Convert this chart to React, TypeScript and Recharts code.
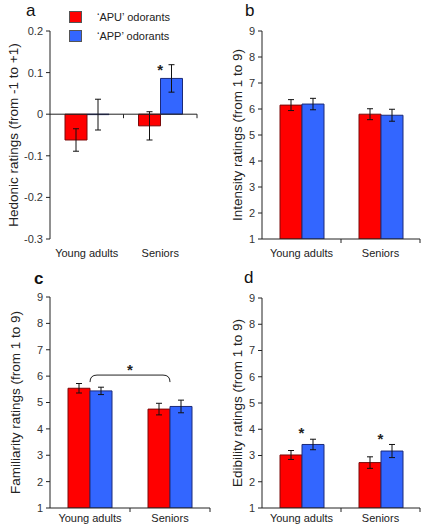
import {
  Bar,
  ComposedChart,
  ErrorBar,
  Legend,
  ReferenceLine,
  Scatter,
  XAxis,
  YAxis,
} from "recharts";

const FONT = "'Liberation Sans', Arial, sans-serif";
const INK = "#222";
const RED = "#ff0000";
const RED_EDGE = "#7a0a0a";
const BLUE = "#3366ff";
const BLUE_EDGE = "#1c2a78";

const GROUPS = ["Young adults", "Seniors"];
const APU_NAME = "\u2018APU\u2019 odorants";
const APP_NAME = "\u2018APP\u2019 odorants";
const SERIES_ORDER = [APU_NAME, APP_NAME];

// a: hedonic ratings
const HEDONIC_APU = [-0.062, -0.028];
const HEDONIC_APU_ERR = [0.027, 0.034];
const HEDONIC_APP = [-0.001, 0.086];
const HEDONIC_APP_ERR = [0.037, 0.033];
const HEDONIC_STAR = [null, 0.113];
const HEDONIC_TICKS = [-0.3, -0.2, -0.1, 0, 0.1, 0.2];

// b: intensity ratings
const INTENSITY_APU = [6.15, 5.8];
const INTENSITY_APU_ERR = [0.21, 0.21];
const INTENSITY_APP = [6.19, 5.76];
const INTENSITY_APP_ERR = [0.22, 0.23];

// c: familiarity ratings
const FAMILIARITY_APU = [5.54, 4.75];
const FAMILIARITY_APU_ERR = [0.18, 0.22];
const FAMILIARITY_APP = [5.44, 4.85];
const FAMILIARITY_APP_ERR = [0.14, 0.24];
const FAMILIARITY_BRACKET = 6.04;

// d: edibility ratings
const EDIBILITY_APU = [3.02, 2.73];
const EDIBILITY_APU_ERR = [0.17, 0.22];
const EDIBILITY_APP = [3.42, 3.17];
const EDIBILITY_APP_ERR = [0.2, 0.25];
const EDIBILITY_STAR = [3.97, 3.74];

const SCALE_TICKS = [1, 2, 3, 4, 5, 6, 7, 8, 9];

type Row = {
  group: string;
  apu: number;
  apuErr: number;
  app: number;
  appErr: number;
  star: number | null;
};

function buildRows(
  apu: number[],
  apuErr: number[],
  app: number[],
  appErr: number[],
  star: (number | null)[] = [null, null]
): Row[] {
  return GROUPS.map((g, i) => ({
    group: g,
    apu: apu[i],
    apuErr: apuErr[i],
    app: app[i],
    appErr: appErr[i],
    star: star[i],
  }));
}

// Excel-style category axis: line plus ticks at the category boundaries.
function CategoryAxisLine(props: any) {
  const { x1, y1, x2 } = props;
  const mid = (x1 + x2) / 2;
  return (
    <g>
      <line x1={x1} y1={y1} x2={x2} y2={y1} stroke={INK} strokeWidth={1} />
      <line x1={mid} y1={y1} x2={mid} y2={y1 + 4} stroke={INK} strokeWidth={1} />
      <line x1={x2} y1={y1} x2={x2} y2={y1 + 4} stroke={INK} strokeWidth={1} />
    </g>
  );
}

function Bracket(props: any) {
  const { x1, y1, x2 } = props;
  const d = `M ${x1} ${y1 + 7} Q ${x1} ${y1} ${x1 + 7} ${y1} L ${x2 - 7} ${y1} Q ${x2} ${y1} ${x2} ${y1 + 7}`;
  return (
    <g>
      <path d={d} fill="none" stroke={INK} strokeWidth={1} />
      <text
        x={(x1 + x2) / 2}
        y={y1}
        textAnchor="middle"
        fontSize={15}
        fontWeight="bold"
        fontFamily={FONT}
        fill={INK}
      >
        *
      </text>
    </g>
  );
}

function StarMark(props: any) {
  if (props.payload?.star == null) return <g />;
  return (
    <text
      x={props.cx}
      y={props.cy + 8}
      textAnchor="middle"
      fontSize={15}
      fontWeight="bold"
      fontFamily={FONT}
      fill={INK}
    >
      *
    </text>
  );
}

function SeriesLegend({ payload }: any) {
  const items = (payload ?? [])
    .filter((p: any) => p.type !== "none")
    .sort((a: any, b: any) => SERIES_ORDER.indexOf(a.value) - SERIES_ORDER.indexOf(b.value));
  return (
    <div style={{ fontFamily: FONT, fontSize: 11, color: INK }}>
      {items.map((p: any) => (
        <div key={p.value} style={{ display: "flex", alignItems: "center", height: 19 }}>
          <span
            style={{
              display: "inline-block",
              width: 11,
              height: 10,
              background: p.color,
              border: "1px solid #555",
              marginRight: 15,
            }}
          />
          <span>{p.value}</span>
        </div>
      ))}
    </div>
  );
}

interface PanelProps {
  left: number;
  top: number;
  width: number;
  height: number;
  margin: { top: number; right: number; bottom: number; left: number };
  rows: Row[];
  domain: [number, number];
  ticks: number[];
  baseline: number;
  yLabel: string;
  yLabelX: number;
  labelDy: number;
  letter: string;
  letterX: number;
  letterY: number;
  letterBold?: boolean;
  showLegend?: boolean;
  bracket?: number;
}

function Panel(p: PanelProps) {
  return (
    <div style={{ position: "absolute", left: p.left, top: p.top, width: p.width, height: p.height }}>
      <ComposedChart
        width={p.width}
        height={p.height}
        data={p.rows}
        margin={p.margin}
        barSize={22}
        barGap={0}
      >
        <XAxis
          dataKey="group"
          axisLine={false}
          tickLine={false}
          tickSize={0}
          tickMargin={0}
          height={20}
          interval={0}
          tick={(t: any) => (
            <text
              x={t.x}
              y={t.y + p.labelDy}
              textAnchor="middle"
              fontSize={11}
              fontFamily={FONT}
              fill={INK}
            >
              {t.payload.value}
            </text>
          )}
        />
        <YAxis
          width={50}
          domain={p.domain}
          ticks={p.ticks}
          interval={0}
          allowDataOverflow
          stroke={INK}
          tickSize={4}
          tickMargin={3}
          tick={{ fill: "#333", fontSize: 11, fontFamily: FONT }}
          tickFormatter={(v: number) => String(v)}
          label={(lp: any) => {
            const vb = lp.viewBox ?? {};
            const cx = (vb.x ?? 0) + p.yLabelX;
            const cy = (vb.y ?? 0) + (vb.height ?? 0) / 2;
            return (
              <text
                x={cx}
                y={cy}
                transform={`rotate(-90 ${cx} ${cy})`}
                textAnchor="middle"
                fontSize={13.5}
                fontFamily={FONT}
                fill={INK}
              >
                {p.yLabel}
              </text>
            );
          }}
        />
        {p.showLegend && (
          <Legend
            layout="vertical"
            align="center"
            verticalAlign="middle"
            content={<SeriesLegend />}
            wrapperStyle={{ top: 7, left: 69, width: "auto", height: "auto" }}
          />
        )}
        <Bar
          dataKey="apu"
          name={APU_NAME}
          fill={RED}
          stroke={RED_EDGE}
          strokeWidth={1}
          isAnimationActive={false}
        >
          <ErrorBar dataKey="apuErr" width={3} stroke="#111" strokeWidth={1} direction="y" />
        </Bar>
        <Bar
          dataKey="app"
          name={APP_NAME}
          fill={BLUE}
          stroke={BLUE_EDGE}
          strokeWidth={1}
          isAnimationActive={false}
        >
          <ErrorBar dataKey="appErr" width={3} stroke="#111" strokeWidth={1} direction="y" />
        </Bar>
        <ReferenceLine y={p.baseline} ifOverflow="visible" shape={CategoryAxisLine} />
        {p.bracket != null && (
          <ReferenceLine
            segment={[
              { x: GROUPS[0], y: p.bracket },
              { x: GROUPS[1], y: p.bracket },
            ]}
            ifOverflow="visible"
            shape={Bracket}
          />
        )}
        <Scatter
          dataKey="star"
          legendType="none"
          shape={StarMark}
          isAnimationActive={false}
        />
      </ComposedChart>
      <span
        style={{
          position: "absolute",
          left: p.letterX,
          top: p.letterY,
          fontFamily: FONT,
          fontSize: 17,
          lineHeight: 1,
          fontWeight: p.letterBold ? "bold" : "normal",
          color: "#111",
        }}
      >
        {p.letter}
      </span>
    </div>
  );
}

export default function App() {
  return (
    <div
      style={{
        position: "absolute",
        left: 0,
        top: 0,
        width: 425,
        height: 529,
        background: "#fff",
        fontFamily: FONT,
      }}
    >
      <Panel
        left={0}
        top={0}
        width={212}
        height={270}
        margin={{ top: 31, right: 15, bottom: 11, left: 0 }}
        rows={buildRows(HEDONIC_APU, HEDONIC_APU_ERR, HEDONIC_APP, HEDONIC_APP_ERR, HEDONIC_STAR)}
        domain={[-0.3, 0.2]}
        ticks={HEDONIC_TICKS}
        baseline={0}
        yLabel="Hedonic ratings (from -1 to +1)"
        yLabelX={18}
        labelDy={18}
        letter="a"
        letterX={26}
        letterY={2}
        showLegend
      />
      <Panel
        left={212}
        top={0}
        width={213}
        height={270}
        margin={{ top: 31, right: 5, bottom: 11, left: 0 }}
        rows={buildRows(INTENSITY_APU, INTENSITY_APU_ERR, INTENSITY_APP, INTENSITY_APP_ERR)}
        domain={[1, 9]}
        ticks={SCALE_TICKS}
        baseline={1}
        yLabel="Intensity ratings (from 1 to 9)"
        yLabelX={30}
        labelDy={18}
        letter="b"
        letterX={33}
        letterY={2}
      />
      <Panel
        left={0}
        top={260}
        width={212}
        height={269}
        margin={{ top: 37, right: 2, bottom: 1, left: 0 }}
        rows={buildRows(FAMILIARITY_APU, FAMILIARITY_APU_ERR, FAMILIARITY_APP, FAMILIARITY_APP_ERR)}
        domain={[1, 9]}
        ticks={SCALE_TICKS}
        baseline={1}
        yLabel="Familiarity ratings (from 1 to 9)"
        yLabelX={20}
        labelDy={14}
        letter="c"
        letterX={34}
        letterY={10}
        letterBold
        bracket={FAMILIARITY_BRACKET}
      />
      <Panel
        left={212}
        top={260}
        width={213}
        height={269}
        margin={{ top: 38, right: 5, bottom: 1, left: 0 }}
        rows={buildRows(EDIBILITY_APU, EDIBILITY_APU_ERR, EDIBILITY_APP, EDIBILITY_APP_ERR, EDIBILITY_STAR)}
        domain={[1, 9]}
        ticks={SCALE_TICKS}
        baseline={1}
        yLabel="Edibility ratings (from 1 to 9)"
        yLabelX={30}
        labelDy={14}
        letter="d"
        letterX={32}
        letterY={9}
      />
    </div>
  );
}
